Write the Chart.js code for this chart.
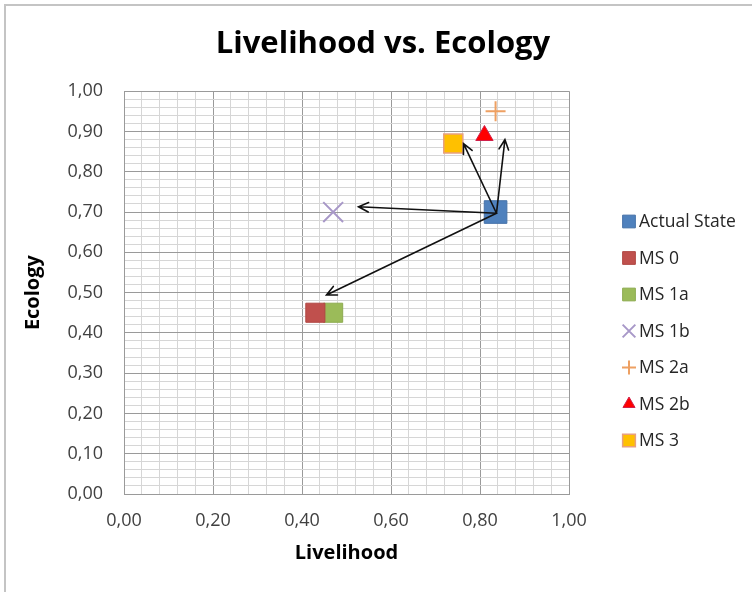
<!DOCTYPE html>
<html>
<head>
<meta charset="utf-8">
<script src="https://cdn.jsdelivr.net/npm/chart.js@4.4.0/dist/chart.umd.min.js"></script>
<style>
  html, body { margin: 0; padding: 0; background: #fff; }
  #moldura { position: relative; width: 752px; height: 592px; }
</style>
</head>
<body>
<div id="moldura"><canvas id="graficoLivelihood"></canvas></div>
<script>
// dados
const nomesSeries = ['Actual State', 'MS 0', 'MS 1a', 'MS 1b', 'MS 2a', 'MS 2b', 'MS 3'];
const livelihood = [0.835, 0.43, 0.47, 0.47, 0.835, 0.81, 0.74];
const ecology = [0.70, 0.45, 0.45, 0.70, 0.95, 0.89, 0.87];

// setas: partem do estado actual
const setaOrigem = [0.837, 0.697];
const setaDestinoX = [0.527, 0.455, 0.763, 0.856];
const setaDestinoY = [0.713, 0.494, 0.870, 0.880];

const tituloGrafico = 'Livelihood vs. Ecology';
const tituloX = 'Livelihood';
const tituloY = 'Ecology';

const fonte = "'Open Sans', 'DejaVu Sans', sans-serif";

const estilos = [
  { pointStyle: 'rect', radius: 16, bg: '#4F81BD', border: '#4672a8', bw: 1, legR: 9 },
  { pointStyle: 'rect', radius: 13.5, bg: '#C0504D', border: '#b04744', bw: 1, legR: 9 },
  { pointStyle: 'rect', radius: 13.5, bg: '#9BBB59', border: '#8dab50', bw: 1, legR: 9 },
  { pointStyle: 'crossRot', radius: 14, bg: '#a898c8', border: '#a898c8', bw: 2, legR: 9 },
  { pointStyle: 'cross', radius: 10, bg: '#eea062', border: '#eea062', bw: 2, legR: 7 },
  { pointStyle: 'triangle', radius: 10, bg: '#FF0000', border: '#d0204a', bw: 1, legR: 7 },
  { pointStyle: 'rect', radius: 13.5, bg: '#FFC000', border: '#e8a080', bw: 1.5, legR: 9 }
];

const datasets = nomesSeries.map((nome, i) => ({
  label: nome,
  data: [{ x: livelihood[i], y: ecology[i] }],
  pointStyle: estilos[i].pointStyle,
  pointRadius: estilos[i].radius,
  pointHoverRadius: estilos[i].radius,
  backgroundColor: estilos[i].bg,
  borderColor: estilos[i].border,
  pointBorderWidth: estilos[i].bw,
  borderWidth: estilos[i].bw
}));

function formatar(v) {
  return v.toFixed(2).replace('.', ',');
}

// moldura cinzenta e fundo branco
const pluginFundo = {
  id: 'fundo',
  beforeDraw(chart) {
    const ctx = chart.ctx;
    ctx.save();
    ctx.fillStyle = '#fff';
    ctx.fillRect(0, 0, chart.width, chart.height);
    ctx.strokeStyle = '#c4c4c4';
    ctx.lineWidth = 2;
    ctx.strokeRect(5, 5, chart.width + 20, chart.height + 20);
    ctx.restore();
  }
};

// setas desenhadas sobre os pontos
const pluginSetas = {
  id: 'setas',
  afterDatasetsDraw(chart) {
    const ctx = chart.ctx;
    const sx = chart.scales.x, sy = chart.scales.y;
    const x0 = sx.getPixelForValue(setaOrigem[0]);
    const y0 = sy.getPixelForValue(setaOrigem[1]);
    ctx.save();
    ctx.strokeStyle = '#111';
    ctx.lineWidth = 1.6;
    ctx.lineCap = 'round';
    setaDestinoX.forEach((vx, i) => {
      const x1 = sx.getPixelForValue(vx);
      const y1 = sy.getPixelForValue(setaDestinoY[i]);
      const ang = Math.atan2(y1 - y0, x1 - x0);
      const tam = 11;
      ctx.beginPath();
      ctx.moveTo(x0, y0);
      ctx.lineTo(x1, y1);
      ctx.moveTo(x1 - tam * Math.cos(ang - 0.45), y1 - tam * Math.sin(ang - 0.45));
      ctx.lineTo(x1, y1);
      ctx.lineTo(x1 - tam * Math.cos(ang + 0.45), y1 - tam * Math.sin(ang + 0.45));
      ctx.stroke();
    });
    ctx.restore();
  }
};

// legenda à direita
const pluginLegenda = {
  id: 'legendaDireita',
  afterDraw(chart) {
    const ctx = chart.ctx;
    const xMarca = 629, xTexto = 639, yInicio = 221.5, passo = 36.5;
    ctx.save();
    chart.data.datasets.forEach((ds, i) => {
      const y = yInicio + i * passo;
      ctx.fillStyle = ds.backgroundColor;
      ctx.strokeStyle = ds.borderColor;
      ctx.lineWidth = ds.borderWidth;
      Chart.helpers.drawPoint(ctx, {
        pointStyle: ds.pointStyle,
        radius: estilos[i].legR,
        rotation: 0,
        borderWidth: ds.borderWidth
      }, xMarca, y);
      ctx.fillStyle = '#262626';
      ctx.font = '17.5px ' + fonte;
      ctx.textBaseline = 'middle';
      ctx.textAlign = 'left';
      ctx.fillText(ds.label, xTexto, y + 1);
    });
    ctx.restore();
  }
};

function corGrelha(passoMaior) {
  return function (ctx) {
    const v = ctx.tick ? ctx.tick.value : 0;
    const k = Math.round(v * 100);
    return k % Math.round(passoMaior * 100) === 0 ? '#9a9a9a' : '#d6d6d6';
  };
}

new Chart(document.getElementById('graficoLivelihood').getContext('2d'), {
  type: 'scatter',
  data: { datasets: datasets },
  options: {
    responsive: true,
    maintainAspectRatio: false,
    animation: false,
    events: [],
    layout: { padding: { left: 14, right: 0, top: 0, bottom: 0 } },
    plugins: {
      legend: { display: false },
      tooltip: { enabled: false },
      title: {
        display: true,
        text: tituloGrafico,
        color: '#000',
        font: { family: fonte, size: 31, weight: 'bold' },
        padding: { top: 26, bottom: 28 }
      }
    },
    scales: {
      x: {
        type: 'linear',
        min: 0,
        max: 1,
        afterFit(s) { s.height = 98; },
        ticks: {
          stepSize: 0.04,
          autoSkip: false,
          maxRotation: 0,
          padding: 16,
          color: '#404040',
          font: { family: fonte, size: 18 },
          callback: v => (Math.round(v * 100) % 20 === 0 ? formatar(v) : '')
        },
        grid: { color: corGrelha(0.2), drawTicks: false, lineWidth: 1 },
        border: { color: '#9a9a9a' },
        title: {
          display: true,
          text: tituloX,
          color: '#000',
          font: { family: fonte, size: 20, weight: 'bold' },
          padding: { top: 0, bottom: 27 }
        }
      },
      y: {
        type: 'linear',
        min: 0,
        max: 1,
        afterFit(s) { s.width = 110; },
        ticks: {
          stepSize: 0.02,
          autoSkip: false,
          padding: 21,
          color: '#404040',
          font: { family: fonte, size: 18 },
          callback: v => (Math.round(v * 100) % 10 === 0 ? formatar(v) : '')
        },
        grid: { color: corGrelha(0.1), drawTicks: false, lineWidth: 1 },
        border: { color: '#9a9a9a' },
        title: {
          display: true,
          text: tituloY,
          color: '#000',
          font: { family: fonte, size: 20, weight: 'bold' },
          padding: { top: 7, bottom: 0 }
        }
      },
      // eixo vazio só para reservar espaço para a legenda
      espacoLegenda: {
        type: 'linear',
        position: 'right',
        display: true,
        afterFit(s) { s.width = 183; },
        ticks: { display: false },
        grid: { display: false, drawTicks: false },
        border: { display: false }
      }
    }
  },
  plugins: [pluginFundo, pluginSetas, pluginLegenda]
});
</script>
</body>
</html>
